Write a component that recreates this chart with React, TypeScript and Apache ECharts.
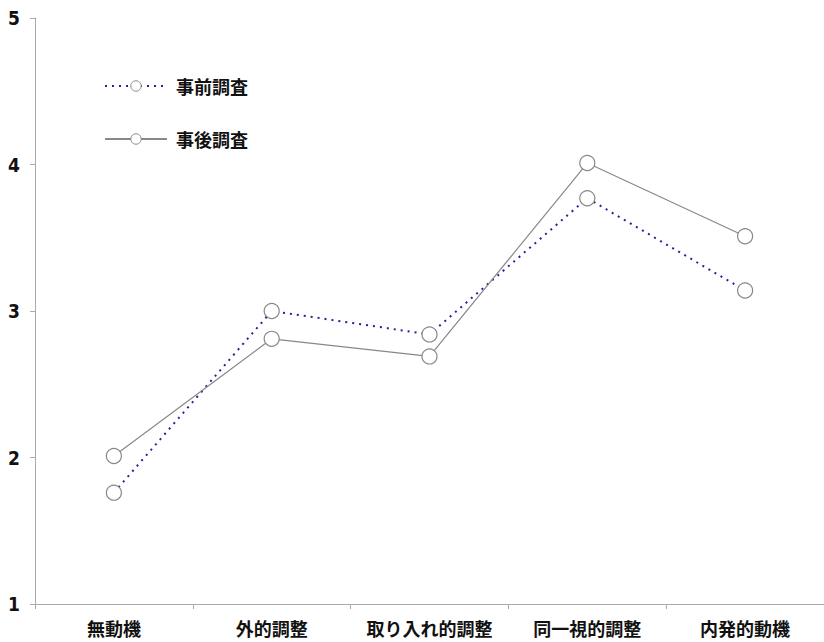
import React, { useEffect, useRef } from "react";
import * as echarts from "echarts";

const categories = ["無動機", "外的調整", "取り入れ的調整", "同一視的調整", "内発的動機"];
const preSurvey = [1.76, 3.0, 2.84, 3.77, 3.14];
const postSurvey = [2.01, 2.81, 2.69, 4.01, 3.51];
const seriesNames = ["事前調査", "事後調査"];

export default function App() {
  const ref = useRef<HTMLDivElement>(null);
  useEffect(() => {
    if (!ref.current) return;
    const chart = echarts.init(ref.current, null, { renderer: "svg" });
    const font = "'Noto Sans CJK JP', sans-serif";
    chart.setOption({
      animation: false,
      backgroundColor: "#fff",
      grid: { left: 35, right: 0, top: 18, bottom: 38, containLabel: false },
      legend: {
        orient: "vertical",
        left: 99,
        top: 72,
        itemWidth: 62,
        itemHeight: 13,
        itemGap: 35,
        itemStyle: { borderWidth: 1 },
        textStyle: { fontFamily: font, fontSize: 18, fontWeight: "bold", color: "#111", padding: [0, 0, 0, 4] },
        data: seriesNames,
      },
      xAxis: {
        type: "category",
        data: categories,
        boundaryGap: true,
        axisLine: { lineStyle: { color: "#aaa", width: 1 } },
        axisTick: { show: true, interval: 0, length: 5, lineStyle: { color: "#aaa" } },
        axisLabel: {
          interval: 0,
          hideOverlap: false,
          fontFamily: font,
          fontSize: 18,
          fontWeight: "bold",
          color: "#111",
          margin: 15,
        },
      },
      yAxis: {
        type: "value",
        min: 1,
        max: 5,
        interval: 1,
        splitLine: { show: false },
        axisLine: { show: true, lineStyle: { color: "#aaa", width: 1 } },
        axisTick: { show: true, length: 5, lineStyle: { color: "#aaa" } },
        axisLabel: {
          fontFamily: "'Liberation Sans Narrow', 'DejaVu Sans Condensed', sans-serif",
          fontSize: 19,
          fontWeight: "bold",
          color: "#111",
          margin: 15,
        },
      },
      series: [
        {
          name: seriesNames[0],
          type: "line",
          data: preSurvey,
          symbol: "circle",
          symbolSize: 15,
          lineStyle: { color: "#22229a", width: 2, type: [2, 5] },
          itemStyle: { color: "#fff", borderColor: "#888", borderWidth: 1.2 },
          color: "#22229a",
        },
        {
          name: seriesNames[1],
          type: "line",
          data: postSurvey,
          symbol: "circle",
          symbolSize: 15,
          lineStyle: { color: "#888", width: 1.2, type: "solid" },
          itemStyle: { color: "#fff", borderColor: "#888", borderWidth: 1.2 },
          color: "#888",
        },
      ],
    });
    return () => chart.dispose();
  }, []);
  return <div ref={ref} style={{ width: 824, height: 642, position: "absolute", left: 0, top: 0 }} />;
}
